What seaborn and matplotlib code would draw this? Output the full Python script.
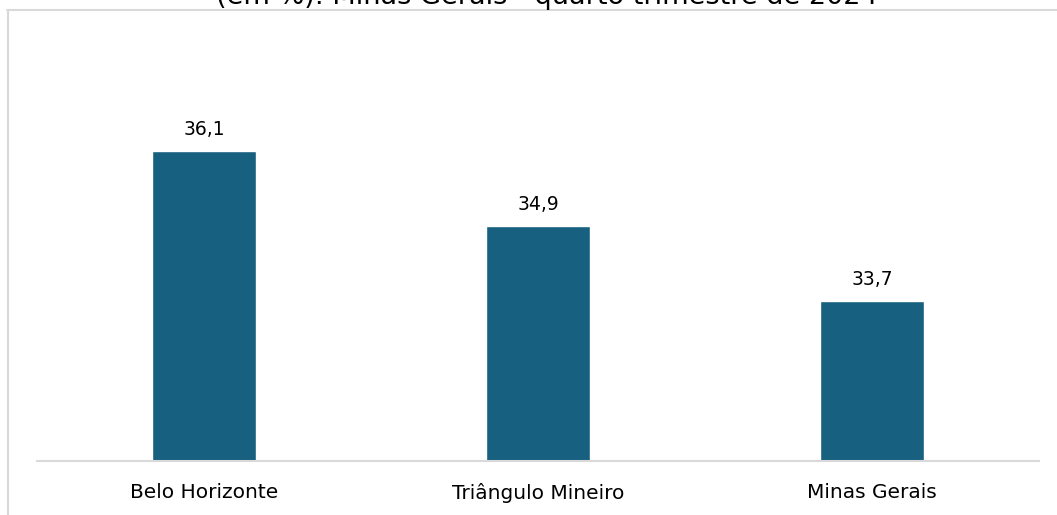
import matplotlib
matplotlib.use("Agg")
import matplotlib.pyplot as plt
from matplotlib.lines import Line2D
import seaborn as sns

categories = ["Belo Horizonte", "Triângulo Mineiro", "Minas Gerais"]
values = [36.1, 34.9, 33.7]
title = "(em %): Minas Gerais - quarto trimestre de 2024"

sns.set_style("white")
plt.rcParams["font.family"] = ["DejaVu Sans"]

fig = plt.figure(figsize=(10.57, 5.15), dpi=100)
W, H = 1057, 515
ax = fig.add_axes([37 / W, (H - 461) / H, (1039 - 37) / W, (461 - 30) / H])

sns.barplot(x=categories, y=values, color="#176080", saturation=1,
            width=0.31, ax=ax)
ax.set_ylim(31.14, 38.04)

labels = [f"{v:.1f}".replace(".", ",") for v in values]
ax.bar_label(ax.containers[0], labels=labels, padding=9, fontsize=13.5,
             color="#000000")

for s in ["top", "left", "right"]:
    ax.spines[s].set_visible(False)
ax.spines["bottom"].set_color("#d9d9d9")
ax.spines["bottom"].set_linewidth(1.5)
ax.set_yticks([])
ax.tick_params(axis="x", length=0, pad=15.5, labelsize=14.5, colors="#000000")
ax.set_xlabel("")
ax.set_ylabel("")

# outer chart frame (cropped)
fig.add_artist(Line2D([7 / W, 1], [1 - 9.5 / H, 1 - 9.5 / H],
                      color="#d9d9d9", lw=1.5, transform=fig.transFigure))
fig.add_artist(Line2D([7.5 / W, 7.5 / W], [0, 1 - 9.5 / H],
                      color="#d9d9d9", lw=1.5, transform=fig.transFigure))

# title is cut off at the top in the reference
fig.text(547 / W, 1 - 4 / H, title, ha="center", va="baseline",
         fontsize=19.5, color="#000000")

fig.savefig("out.png", dpi=100)
